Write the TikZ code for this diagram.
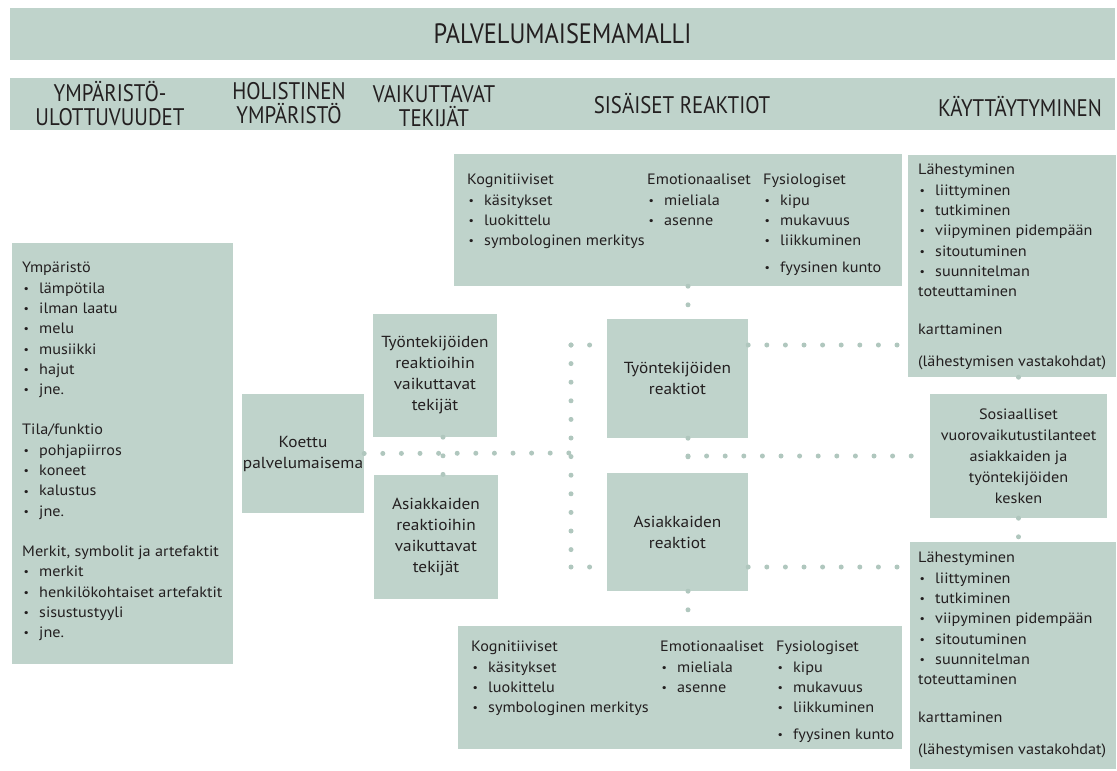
\documentclass[tikz,border=0pt]{standalone}
\usepackage{fontspec}
\setmainfont[FakeStretch=1.08]{PT Sans}
\newfontfamily\condfont[FakeStretch=0.87]{PT Sans}
\definecolor{boxc}{HTML}{BFD3CB}
\definecolor{dotc}{HTML}{B0C7BE}
\definecolor{txtc}{HTML}{231F20}
\newcommand{\bl}{\makebox[17pt][l]{\hspace{1.5pt}\raisebox{0.8pt}{\fontsize{11}{11}\selectfont\textbullet}}}

\begin{document}
\begin{tikzpicture}[x=1pt,y=-1pt,
  box/.style={fill=boxc,inner sep=0pt,text=txtc,align=center,font=\fontsize{16}{21}\selectfont},
  lst/.style={inner sep=0pt,anchor=north west,align=left,text=txtc,font=\fontsize{15}{20.3}\selectfont},
  hdr/.style={text=txtc,align=center,font=\condfont\fontsize{24}{24}\selectfont},
  dots/.style={draw=dotc,line width=5pt,line cap=round,dash pattern=on 0pt off 18.6pt}]
\useasboundingbox (0,0) rectangle (1117,771);

\node[box,minimum width=1105,minimum height=52,font=\condfont\fontsize{28}{28}\selectfont] (title) at (562.5,34) {PALVELUMAISEMAMALLI};
\node[box,minimum width=1105,minimum height=52] (bar) at (562.5,104) {};

\node[hdr] (h1) at (110,104) {YMPÄRISTÖ-\\ULOTTUVUUDET};
\node[hdr] (h2) at (289,103) {HOLISTINEN\\YMPÄRISTÖ};
\node[hdr] (h3) at (434,106) {VAIKUTTAVAT\\TEKIJÄT};
\node[hdr] (h4) at (682,104) {SISÄISET REAKTIOT};
\node[hdr] (h5) at (1020,107) {KÄYTTÄYTYMINEN};

\node[box,minimum width=221,minimum height=421] (env) at (122.5,453.5) {};
\node[lst] (envt) at (22,262) {Ympäristö\\ \bl lämpötila\\ \bl ilman laatu\\ \bl melu\\ \bl musiikki\\ \bl hajut\\ \bl jne.\\[20pt]
Tila/funktio\\ \bl pohjapiirros\\ \bl koneet\\ \bl kalustus\\ \bl jne.\\[20pt]
Merkit, symbolit ja artefaktit\\ \bl merkit\\ \bl henkilökohtaiset artefaktit\\ \bl sisustustyyli\\ \bl jne.};

\node[box,minimum width=122,minimum height=119] (koettu) at (303,453.5) {Koettu\\palvelumaisema};
\node[box,minimum width=124,minimum height=123] (tyovt) at (435,375.5) {Työntekijöiden\\reaktioihin\\vaikuttavat\\tekijät};
\node[box,minimum width=124,minimum height=124] (asvt) at (436,537) {Asiakkaiden\\reaktioihin\\vaikuttavat\\tekijät};

\node[box,minimum width=448,minimum height=132] (sisy) at (678,220) {};
\node[lst] (sisy1) at (467,174) {Kognitiiviset\\ \bl käsitykset\\ \bl luokittelu\\ \bl symbologinen merkitys};
\node[lst] (sisy2) at (647,174) {Emotionaaliset\\ \bl mieliala\\ \bl asenne};
\node[lst] (sisy3) at (763,174) {Fysiologiset\\ \bl kipu\\ \bl mukavuus\\ \bl liikkuminen\\[6pt] \bl fyysinen kunto};

\node[box,minimum width=141,minimum height=119] (tyor) at (677.5,378.5) {Työntekijöiden\\reaktiot};
\node[box,minimum width=141,minimum height=118] (asr) at (677.5,532) {Asiakkaiden\\reaktiot};

\node[box,minimum width=444,minimum height=123] (sisa) at (680,687.5) {};
\node[lst] (sisa1) at (471,641) {Kognitiiviset\\ \bl käsitykset\\ \bl luokittelu\\ \bl symbologinen merkitys};
\node[lst] (sisa2) at (660,641) {Emotionaaliset\\ \bl mieliala\\ \bl asenne};
\node[lst] (sisa3) at (776,641) {Fysiologiset\\ \bl kipu\\ \bl mukavuus\\ \bl liikkuminen\\[6pt] \bl fyysinen kunto};

\node[box,minimum width=208,minimum height=222] (kayy) at (1012,266) {};
\node[lst] (kayyt) at (918,164) {Lähestyminen\\ \bl liittyminen\\ \bl tutkiminen\\ \bl viipyminen pidempään\\ \bl sitoutuminen\\ \bl suunnitelman\\ toteuttaminen\\[18pt] karttaminen\\[11pt] (lähestymisen vastakohdat)};

\node[box,minimum width=177,minimum height=124,font=\fontsize{15}{21}\selectfont] (sos) at (1018.5,456) {Sosiaalliset\\vuorovaikutustilanteet\\asiakkaiden ja\\työntekijöiden\\kesken};

\node[box,minimum width=206,minimum height=227] (kaya) at (1013,655.5) {};
\node[lst] (kayat) at (918,552) {Lähestyminen\\ \bl liittyminen\\ \bl tutkiminen\\ \bl viipyminen pidempään\\ \bl sitoutuminen\\ \bl suunnitelman\\ toteuttaminen\\[18pt] karttaminen\\[11pt] (lähestymisen vastakohdat)};

\coordinate (tt) at (571,345);
\coordinate (tm) at (571,453);
\coordinate (tb) at (571,567);
\coordinate (vx) at (688,0);

\draw[dots] (koettu.east) -- (tm);
\draw[dots] ([xshift=8]tyovt.south) -- ([xshift=7]asvt.north);
\draw[dots] (tt) -- (tb);
\draw[dots] (tt) -- (tt -| tyor.west);
\draw[dots] (tb) -- (tb -| asr.west);
\draw[dots] (sisy.south -| vx) -- (tyor.north -| vx);
\draw[dots] (tyor.south -| vx) -- (asr.north -| vx);
\draw[dots] (sos.west -| vx) -- (sos.west);
\draw[dots] (tt -| tyor.east) -- (tt -| kayy.west);
\draw[dots] (tb -| asr.east) -- (tb -| kaya.west);
\draw[dots] (asr.south -| vx) -- (sisa.north -| vx);
\draw[dots] (kayy.south -| sos.north) -- (sos.north);
\draw[dots] (sos.south) -- (kaya.north -| sos.south);
\end{tikzpicture}
\end{document}
